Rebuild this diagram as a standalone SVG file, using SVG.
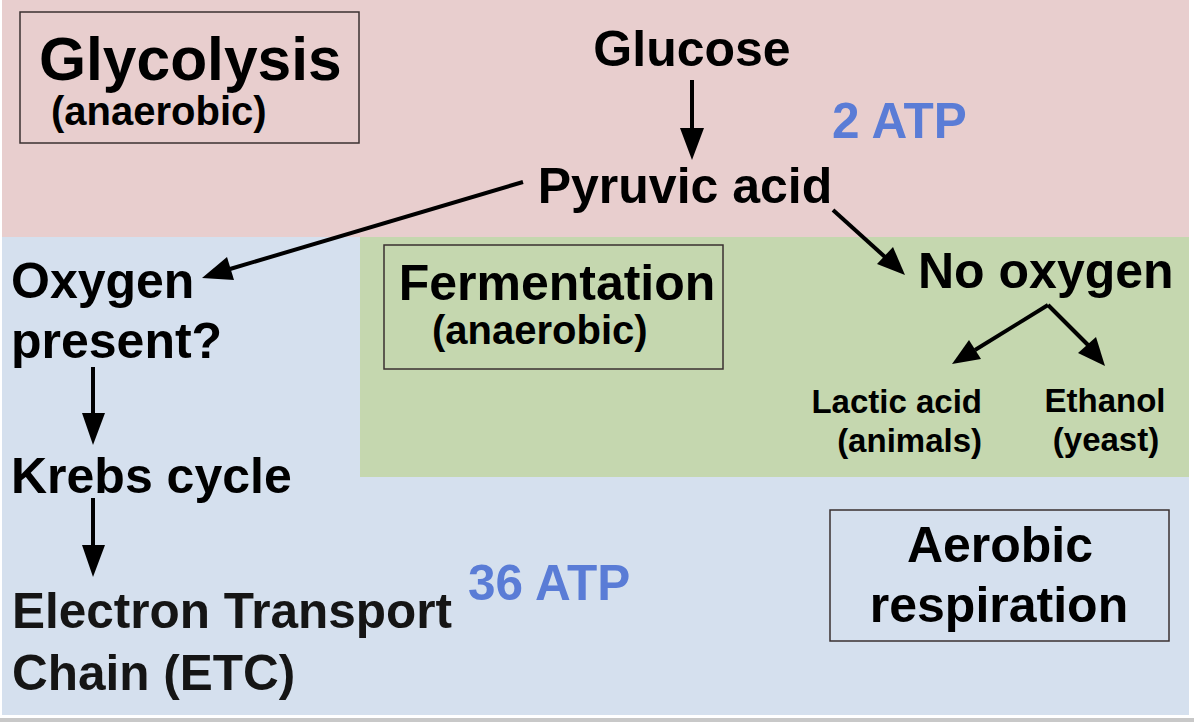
<svg xmlns="http://www.w3.org/2000/svg" width="1194" height="722" viewBox="0 0 1194 722">
<style>
text{font-family:"Liberation Sans",Arial,sans-serif;font-weight:bold;fill:#000}
.big{font-size:50px}
.sub{font-size:40px}
.small{font-size:33px}
.atp{font-size:49.5px;fill:#5a7cd6}
.box{fill:none;stroke:#3a3030;stroke-width:1.5}
.conn{stroke:#000;stroke-width:4;fill:none}
</style>
<rect x="0" y="0" width="1194" height="722" fill="#ffffff"/>
<g id="backgrounds">
<rect x="2" y="0" width="1187" height="237" fill="#e8cece"/>
<rect x="2" y="237" width="1187" height="478" fill="#d5e0ee"/>
<rect x="360" y="237" width="829" height="240" fill="#c5d7af"/>
<rect x="0" y="718" width="1194" height="4" fill="#c8c8c8"/>
</g>
<g id="connectors">
<line class="conn" x1="692" y1="80" x2="692" y2="130"/>
<path d="M680,128 L704,128 L692,160 Z" fill="#000"/>
<line class="conn" x1="523" y1="182" x2="230" y2="269"/>
<path d="M202,278 L227,257 L234,280 Z" fill="#000"/>
<line class="conn" x1="833" y1="210" x2="885" y2="257"/>
<path d="M905,275 L877,264 L893,247 Z" fill="#000"/>
<line class="conn" x1="1048" y1="305" x2="975" y2="350"/>
<path d="M952,364 L969,340 L981,359 Z" fill="#000"/>
<line class="conn" x1="1048" y1="305" x2="1088" y2="345"/>
<path d="M1105,366 L1078,353 L1096,337 Z" fill="#000"/>
<line class="conn" x1="93" y1="367" x2="93" y2="415"/>
<path d="M82,413 L105,413 L93,445 Z" fill="#000"/>
<line class="conn" x1="93" y1="498" x2="93" y2="547"/>
<path d="M82,545 L105,545 L93,577 Z" fill="#000"/>
</g>
<g id="glycolysis">
<rect class="box" x="20" y="12" width="339" height="131"/>
<text x="39" y="80" style="font-size:60.5px">Glycolysis</text>
<text class="sub" x="51" y="125">(anaerobic)</text>
</g>
<g id="glucose">
<text class="big" x="692" y="66" text-anchor="middle">Glucose</text>
</g>
<g id="pyruvic">
<text class="big" x="685" y="203" text-anchor="middle">Pyruvic acid</text>
</g>
<g id="atp2">
<text class="atp" x="832" y="138">2 ATP</text>
</g>
<g id="oxygen-present">
<text class="big" x="11" y="298">Oxygen</text>
<text class="big" x="11" y="358">present?</text>
</g>
<g id="fermentation">
<rect class="box" x="384" y="245" width="339" height="124"/>
<text class="big" x="557" y="300" text-anchor="middle">Fermentation</text>
<text class="sub" x="432" y="344">(anaerobic)</text>
</g>
<g id="no-oxygen">
<text class="big" x="918" y="288">No oxygen</text>
</g>
<g id="lactic">
<text class="small" x="982" y="413" text-anchor="end">Lactic acid</text>
<text class="small" x="982" y="452" text-anchor="end">(animals)</text>
</g>
<g id="ethanol">
<text class="small" x="1105" y="412" text-anchor="middle">Ethanol</text>
<text class="small" x="1106" y="451" text-anchor="middle">(yeast)</text>
</g>
<g id="krebs">
<text class="big" x="11" y="493">Krebs cycle</text>
</g>
<g id="etc">
<text x="12" y="628" style="font-size:49.5px;fill:#151515">Electron Transport</text>
<text x="12" y="690" style="font-size:49.5px;fill:#151515">Chain (ETC)</text>
</g>
<g id="atp36">
<text class="atp" x="468" y="600">36 ATP</text>
</g>
<g id="aerobic">
<rect class="box" x="830" y="510" width="339" height="131"/>
<text class="big" x="1000" y="562" text-anchor="middle">Aerobic</text>
<text class="big" x="999" y="622" text-anchor="middle">respiration</text>
</g>
</svg>
